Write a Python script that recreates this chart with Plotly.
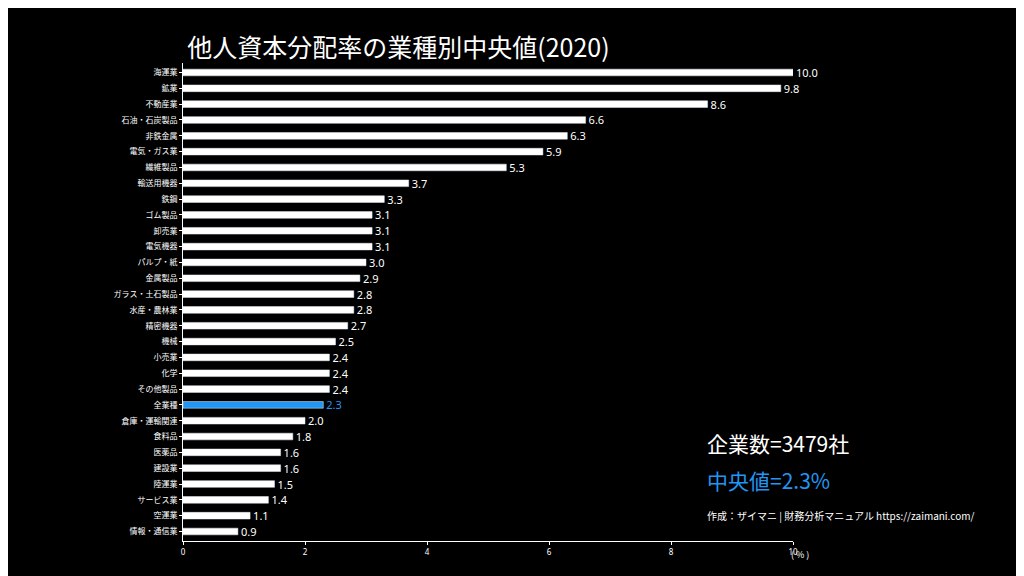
import plotly.graph_objects as go

categories = ["海運業", "鉱業", "不動産業", "石油・石炭製品", "非鉄金属", "電気・ガス業", "繊維製品",
              "輸送用機器", "鉄鋼", "ゴム製品", "卸売業", "電気機器", "パルプ・紙", "金属製品",
              "ガラス・土石製品", "水産・農林業", "精密機器", "機械", "小売業", "化学", "その他製品",
              "全業種", "倉庫・運輸関連", "食料品", "医薬品", "建設業", "陸運業", "サービス業",
              "空運業", "情報・通信業"]
values = [10.0, 9.8, 8.6, 6.6, 6.3, 5.9, 5.3, 3.7, 3.3, 3.1, 3.1, 3.1, 3.0, 2.9, 2.8, 2.8,
          2.7, 2.5, 2.4, 2.4, 2.4, 2.3, 2.0, 1.8, 1.6, 1.6, 1.5, 1.4, 1.1, 0.9]

font = "Noto Sans CJK JP"
blue = "#2196f3"
colors = [blue if c == "全業種" else "white" for c in categories]

fig = go.Figure(go.Bar(
    x=values, y=categories, orientation="h", marker_color=colors, width=0.42,
    text=[f"{v:.1f}" for v in values], textposition="outside", constraintext="none",
    textfont=dict(color=colors, size=11, family="Noto Sans"), cliponaxis=False,
))
fig.update_layout(
    width=1024, height=576, paper_bgcolor="black", plot_bgcolor="black",
    margin=dict(l=175, r=239, t=55, b=43), showlegend=False,
    font=dict(family=font, color="white"),
    title=dict(text="他人資本分配率の業種別中央値(2020)", x=0.175, y=0.945,
               font=dict(size=25, color="white")),
    xaxis=dict(range=[0, 10], dtick=2, showgrid=False, zeroline=False, automargin=False,
               showline=True, linecolor="white", ticks="outside", tickcolor="white",
               ticklen=3, tickfont=dict(size=8, color="white", family="Noto Sans")),
    yaxis=dict(autorange=False, range=[29.6, -0.6], automargin=False, showline=True,
               linecolor="white", ticks="outside", tickcolor="white", ticklen=3,
               tickfont=dict(size=8, color="white")),
)
fig.add_annotation(text="( % )", xref="paper", yref="paper", x=1.03, y=-0.045,
                   showarrow=False, font=dict(size=9))
fig.add_annotation(text="企業数=3479社", xref="paper", yref="paper", x=0.856, y=0.17,
                   xanchor="left", showarrow=False, font=dict(size=21, color="white"))
fig.add_annotation(text="中央値=2.3%", xref="paper", yref="paper", x=0.856, y=0.092,
                   xanchor="left", showarrow=False, font=dict(size=21, color=blue))
fig.add_annotation(text="作成：ザイマニ | 財務分析マニュアル https://zaimani.com/", xref="paper",
                   yref="paper", x=0.856, y=0.033, xanchor="left", showarrow=False,
                   font=dict(size=10, color="white"))
fig.write_html("out.html")
